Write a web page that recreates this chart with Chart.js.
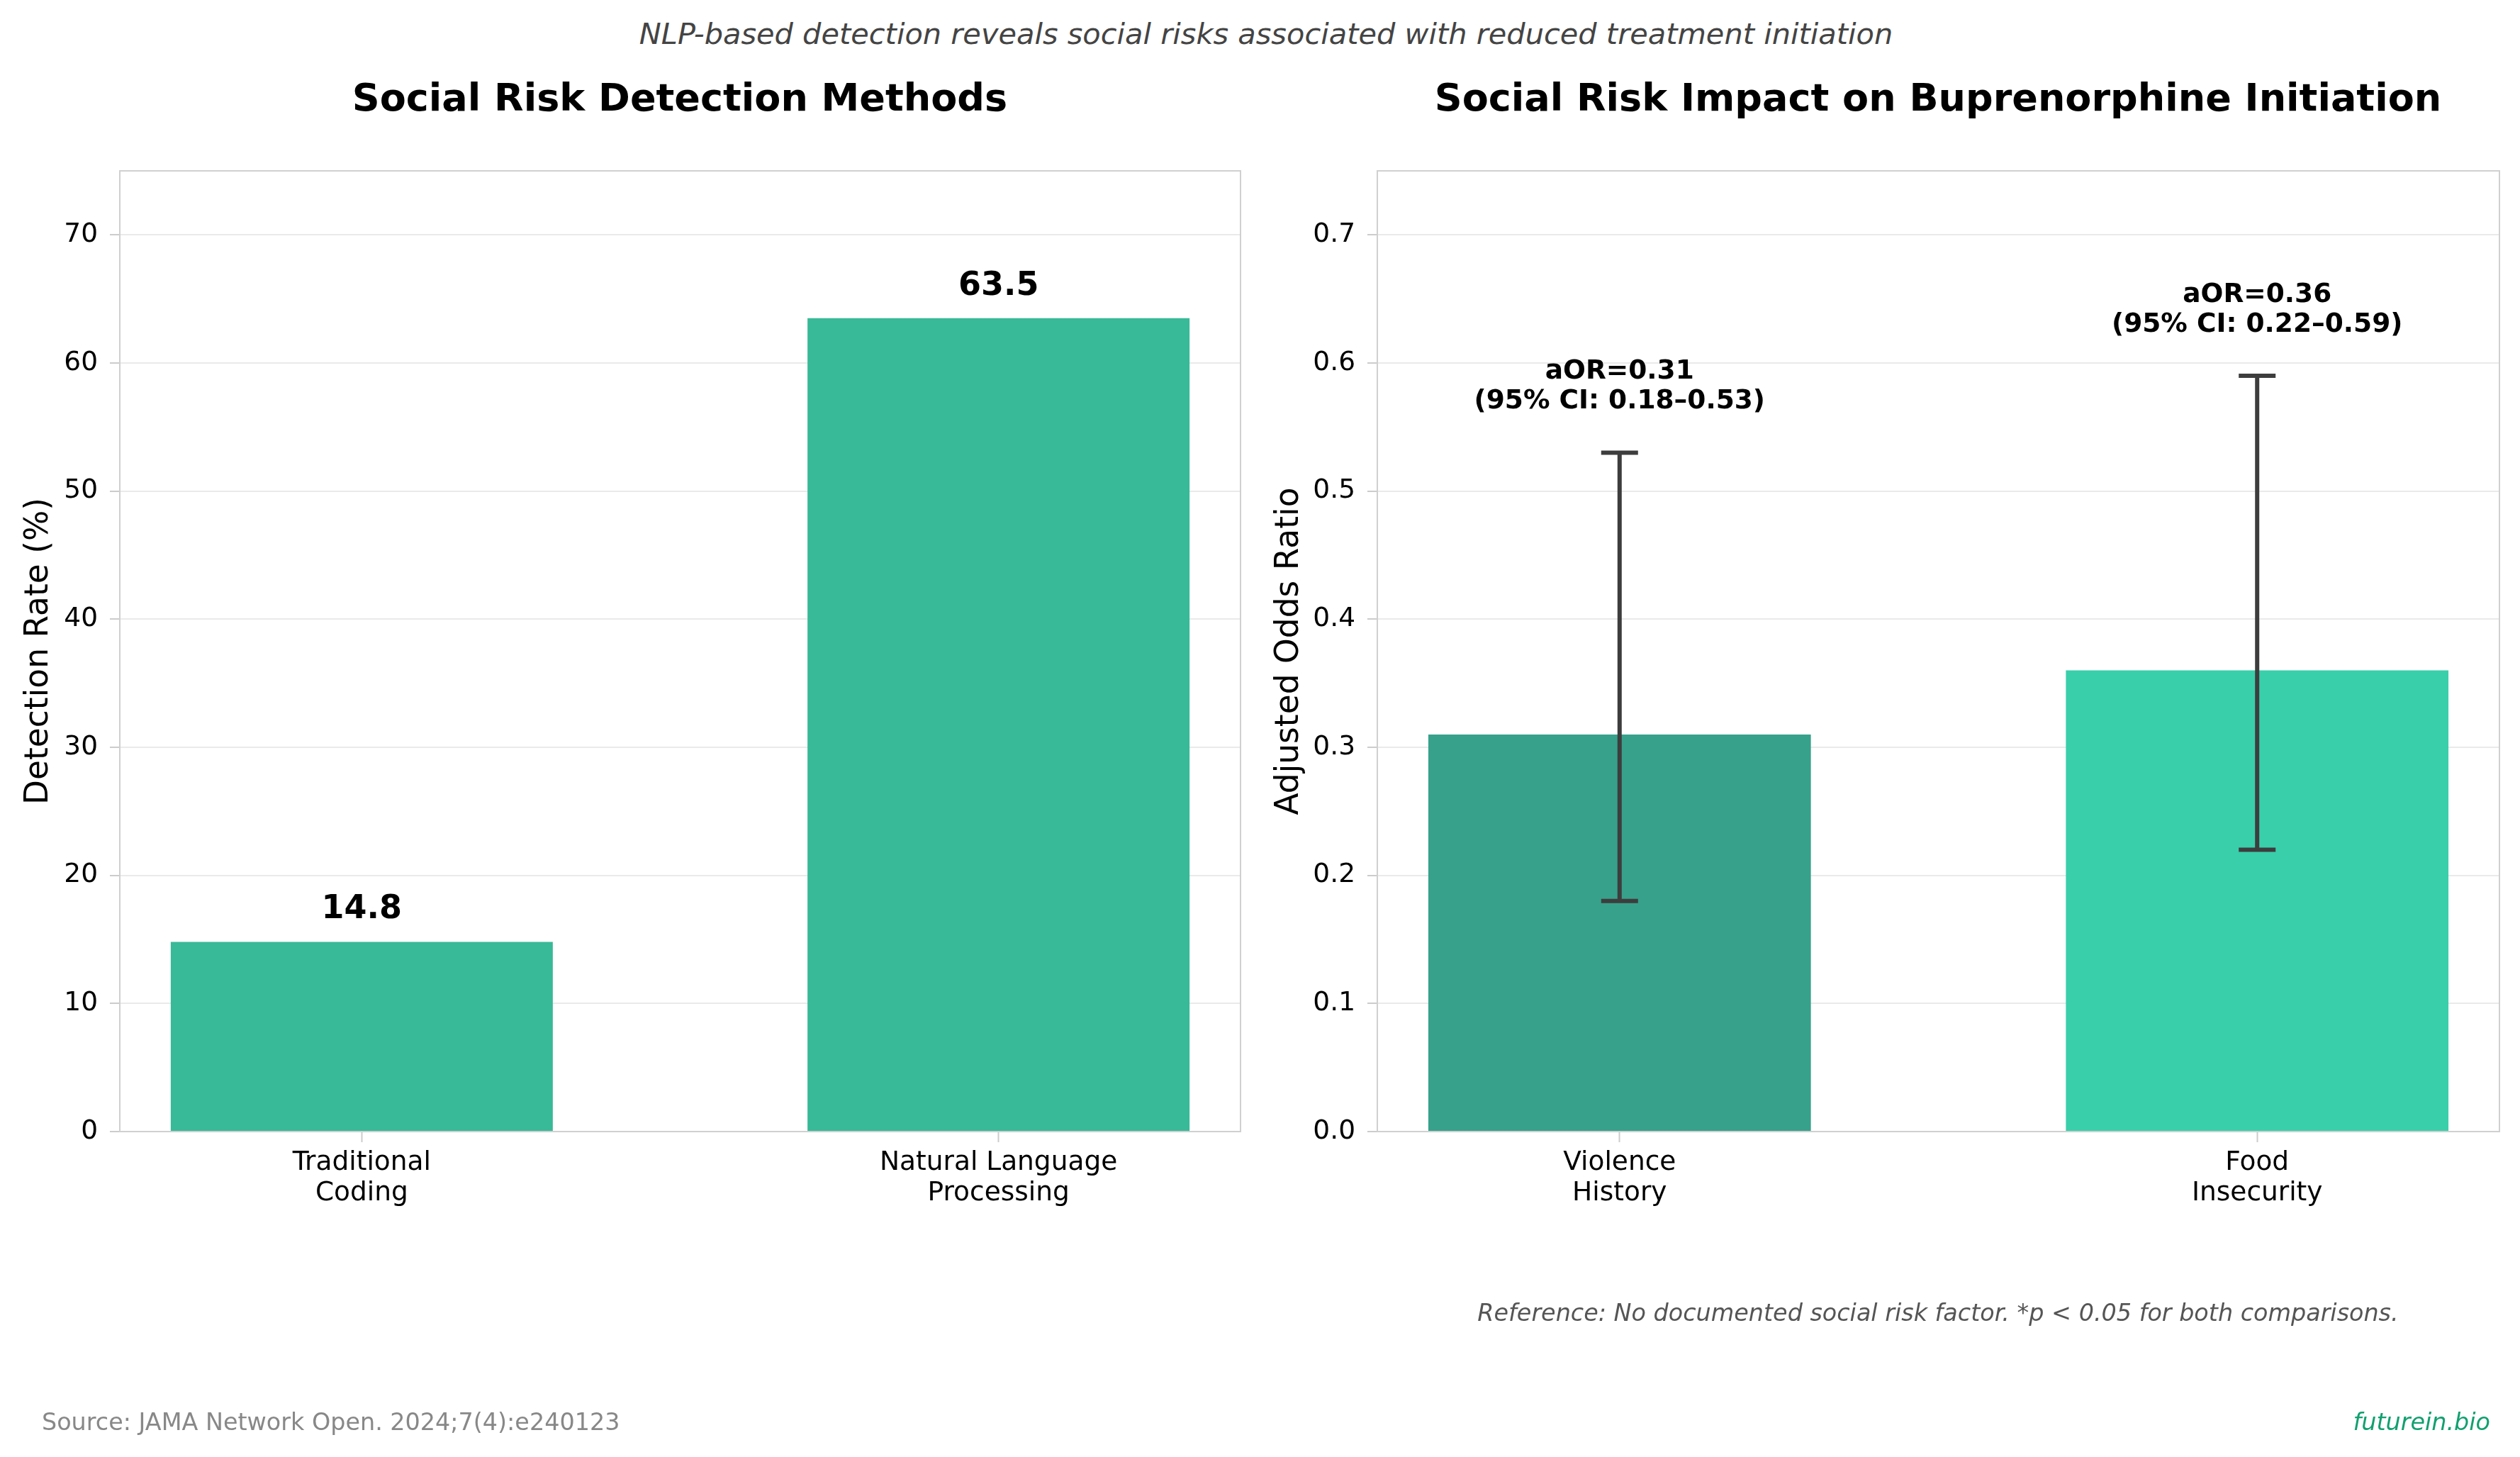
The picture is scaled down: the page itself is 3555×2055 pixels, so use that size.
<!DOCTYPE html>
<html lang="en">
<head>
<meta charset="UTF-8">
<title>Social Risk Detection</title>
<script src="https://cdn.jsdelivr.net/npm/chart.js@4.4.1/dist/chart.umd.min.js"></script>
<style>
  body { margin: 0; background: #fff; font-family: "DejaVu Sans", sans-serif; }
  .page { position: relative; width: 3555px; height: 2055px; overflow: hidden; }
  .txt { position: absolute; white-space: nowrap; line-height: 1; transform: translate(-50%, -50%); }
  canvas { position: absolute; top: 0; }
</style>
</head>
<body>
<div class="page">
  <div class="txt" style="left:1786px; top:48px; font-size:41.5px; font-style:italic; color:#444;">NLP-based detection reveals social risks associated with reduced treatment initiation</div>
  <div class="txt" style="left:959px; top:138px; font-size:54px; font-weight:bold; color:#000;">Social Risk Detection Methods</div>
  <div class="txt" style="left:2734px; top:138px; font-size:54px; font-weight:bold; color:#000;">Social Risk Impact on Buprenorphine Initiation</div>

  <canvas id="left" width="1775" height="2055" style="left:0px;"></canvas>
  <canvas id="right" width="1780" height="2055" style="left:1775px;"></canvas>

  <div class="txt" style="left:2734px; top:1852px; font-size:33.4px; font-style:italic; color:#555;">Reference: No documented social risk factor. *p &lt; 0.05 for both comparisons.</div>
  <div class="txt" style="left:59px; top:2006px; font-size:33.4px; color:#888; transform:translate(0,-50%);">Source: JAMA Network Open. 2024;7(4):e240123</div>
  <div class="txt" style="left:3513px; top:2006px; font-size:33.4px; font-style:italic; color:#12a070; transform:translate(-100%,-50%);">futurein.bio</div>
</div>

<script>
// data
const methodLabels = ['Traditional\nCoding', 'Natural Language\nProcessing'];
const detectionRates = [14.8, 63.5];
const riskLabels = ['Violence\nHistory', 'Food\nInsecurity'];
const oddsRatios = [0.31, 0.36];
const ciLower = [0.18, 0.22];
const ciUpper = [0.53, 0.59];
const leftTicks = [0, 10, 20, 30, 40, 50, 60, 70];
const rightTicks = [0.0, 0.1, 0.2, 0.3, 0.4, 0.5, 0.6, 0.7];

const leftColors = ['#38b997', '#38b997'];
const rightColors = ['#37a18b', '#38cfaa'];

const FONT = '"DejaVu Sans", sans-serif';

// full box around the plot area (matplotlib-like spines)
const boxPlugin = {
    id: 'box',
    afterDraw(chart) {
        const a = chart.chartArea, ctx = chart.ctx;
        ctx.save();
        ctx.strokeStyle = '#d0d0d0';
        ctx.lineWidth = 2;
        ctx.strokeRect(a.left, a.top, a.right - a.left, a.bottom - a.top);
        ctx.restore();
    }
};

// value labels over the left bars
const valuePlugin = {
    id: 'values',
    afterDraw(chart) {
        if (chart.canvas.id !== 'left') return;
        const ctx = chart.ctx, xs = chart.scales.x, ys = chart.scales.y;
        ctx.save();
        ctx.font = 'bold 46px ' + FONT;
        ctx.fillStyle = '#000';
        ctx.textAlign = 'center';
        ctx.textBaseline = 'middle';
        detectionRates.forEach((v, i) => {
            ctx.fillText(v.toFixed(1), xs.getPixelForValue(i), ys.getPixelForValue(v + 2.5));
        });
        ctx.restore();
    }
};

// error bars + aOR annotations on the right chart
const errorPlugin = {
    id: 'errors',
    afterDraw(chart) {
        if (chart.canvas.id !== 'right') return;
        const ctx = chart.ctx, xs = chart.scales.x, ys = chart.scales.y;
        ctx.save();
        ctx.strokeStyle = '#3d3d3d';
        ctx.lineWidth = 6;
        oddsRatios.forEach((v, i) => {
            const x = xs.getPixelForValue(i);
            const y1 = ys.getPixelForValue(ciLower[i]);
            const y2 = ys.getPixelForValue(ciUpper[i]);
            ctx.beginPath();
            ctx.moveTo(x, y1); ctx.lineTo(x, y2);
            ctx.moveTo(x - 26, y1); ctx.lineTo(x + 26, y1);
            ctx.moveTo(x - 26, y2); ctx.lineTo(x + 26, y2);
            ctx.stroke();

            ctx.font = 'bold 37.5px ' + FONT;
            ctx.fillStyle = '#000';
            ctx.textAlign = 'center';
            ctx.textBaseline = 'middle';
            ctx.fillText('aOR=' + v.toFixed(2), x, ys.getPixelForValue(ciUpper[i] + 0.063));
            ctx.fillText('(95% CI: ' + ciLower[i].toFixed(2) + '\u2013' + ciUpper[i].toFixed(2) + ')', x, ys.getPixelForValue(ciUpper[i] + 0.040));
        });
        ctx.restore();
    }
};

function makeChart(id, labels, values, colors, yTicks, yMax, yTitle, decimals, yWidth, titlePad, rightPad) {
    const ctx = document.getElementById(id).getContext('2d');
    return new Chart(ctx, {
        type: 'bar',
        data: {
            datasets: [{
                data: values.map((v, i) => ({ x: i, y: v })),
                backgroundColor: colors,
                borderWidth: 0,
                barPercentage: 0.6,
                categoryPercentage: 1.0
            }]
        },
        options: {
            responsive: false,
            animation: false,
            devicePixelRatio: 1,
            layout: { padding: { top: 241, left: 0, right: rightPad, bottom: 309 } },
            plugins: { legend: { display: false }, tooltip: { enabled: false } },
            scales: {
                x: {
                    type: 'linear',
                    min: -0.38,
                    max: 1.38,
                    offset: false,
                    afterBuildTicks(scale) { scale.ticks = labels.map((l, i) => ({ value: i })); },
                    afterFit(scale) { scale.height = 150; },
                    border: { display: false },
                    grid: { offset: false, drawOnChartArea: false, drawTicks: true, tickLength: 15, tickColor: '#cccccc', tickWidth: 2 },
                    ticks: {
                        color: '#000',
                        padding: 8,
                        maxRotation: 0,
                        font: { family: FONT, size: 37.5, lineHeight: 1.15 },
                        callback: (v) => labels[v] !== undefined ? labels[v].split('\n') : ''
                    }
                },
                y: {
                    min: 0,
                    max: yMax,
                    z: 1,
                    afterBuildTicks(scale) { scale.ticks = yTicks.map(v => ({ value: v })); },
                    afterFit(scale) { scale.width = yWidth; },
                    border: { display: false },
                    grid: { color: 'rgba(180,180,180,0.28)', lineWidth: 2, tickLength: 14, tickColor: '#cccccc', tickWidth: 2 },
                    ticks: {
                        color: '#000',
                        padding: 17,
                        font: { family: FONT, size: 37.5 },
                        callback: (v) => v.toFixed(decimals)
                    },
                    title: {
                        display: true,
                        text: yTitle,
                        color: '#000',
                        padding: { top: titlePad, bottom: 0 },
                        font: { family: FONT, size: 45.5, lineHeight: 1.2 }
                    }
                }
            }
        },
        plugins: [boxPlugin, valuePlugin, errorPlugin]
    });
}

makeChart('left', methodLabels, detectionRates, leftColors, leftTicks, 75, 'Detection Rate (%)', 0, 169, 28, 25);
makeChart('right', riskLabels, oddsRatios, rightColors, rightTicks, 0.75, 'Adjusted Odds Ratio', 1, 168, 17, 29);
</script>
</body>
</html>
